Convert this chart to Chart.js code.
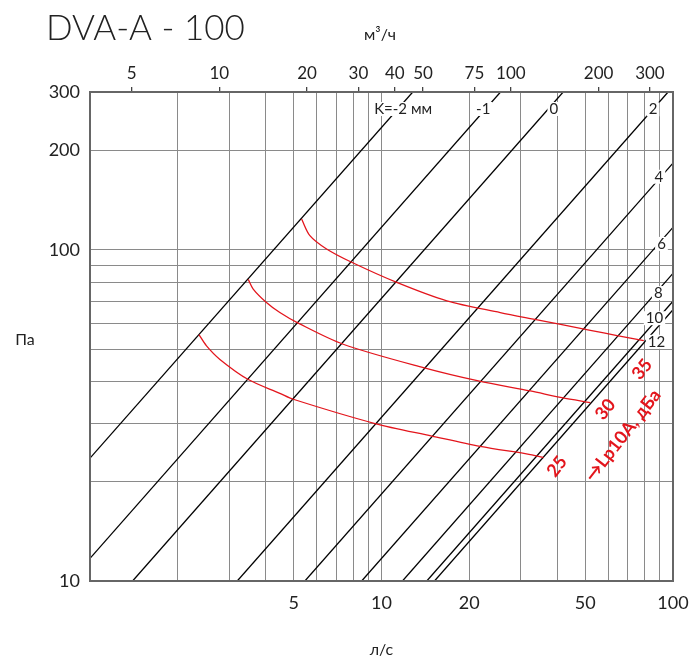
<!DOCTYPE html>
<html>
<head>
<meta charset="utf-8">
<script src="https://cdn.jsdelivr.net/npm/chart.js@4.4.1/dist/chart.umd.min.js"></script>
<style>
  html, body { margin: 0; padding: 0; background: #fff; }
  #wrap { width: 694px; height: 659px; }
</style>
</head>
<body>
<div id="wrap"><canvas id="chart-dva"></canvas></div>
<script>
// axes: flow l/s (bottom), m3/h (top), pressure drop Pa (left)
const flowTicks = [1, 2, 3, 4, 5, 6, 7, 8, 9, 10, 20, 30, 40, 50, 60, 70, 80, 90, 100];
const flowLabels = [5, 10, 20, 50, 100];
const pressTicks = [10, 20, 30, 40, 50, 60, 70, 80, 90, 100, 200, 300];
const pressLabels = [10, 100, 200, 300];
const m3hTicks = [5, 10, 20, 30, 40, 50, 75, 100, 200, 300];

// K lines (damper setting): start / end points
const kNames = ['K=-2 мм', '-1', '0', '2', '4', '6', '8', '10', '12'];
const kStartQ = [1, 1, 1.4, 3.2, 5.46, 8.55, 11.8, 14.3, 15.2];
const kStartP = [23.5, 11.7, 10, 10, 10, 10, 10, 10, 10];
const kEndQ = [12.8, 25.6, 42, 96.2, 100, 100, 100, 100, 100];
const kEndP = [300, 300, 300, 300, 183, 117, 85, 70, 66];

// sound level curves Lp10A, dBA
const noise35Q = [5.32, 5.68, 6.48, 7.9, 11.28, 16.75, 25.54, 33.2, 52.06, 64.3, 79.4];
const noise35P = [124, 110.5, 100.7, 91.8, 79.8, 70.2, 64.7, 61.8, 57.2, 55.1, 53.2];
const noise30Q = [3.49, 3.63, 4.03, 4.48, 5.18, 7.39, 13.92, 21.5, 32.4, 41.6, 52.06];
const noise30P = [81.5, 76.2, 69.4, 64.7, 60.1, 51.9, 44.1, 40.2, 37.5, 35.8, 34.6];
const noise25Q = [2.365, 2.51, 2.79, 3.49, 4.48, 4.98, 9.5, 14.88, 21.8, 32.4, 35.97];
const noise25P = [55.5, 51.3, 46.7, 40.6, 36.9, 35.4, 29.9, 27.4, 25.5, 24.1, 23.6];

// label anchors (data coords)
const kLabelQ = [11.86, 22.33, 39.0, 85.4, 89.5, 91.3, 89.0, 86.4, 87.8];
const kLabelP = [266.6, 266.6, 266.6, 266, 166.4, 104.3, 74.1, 62.2, 52.8];
const redLabels = [
    {text: '35', q: 78.4, p: 43.6},
    {text: '30', q: 58.6, p: 33.0},
    {text: '25', q: 40.0, p: 22.2},
    {text: '→Lp10A, дБа', q: 67.3, p: 27.5},
];

const FONT = 'Lato, "Open Sans", sans-serif';
const RED = '#e3151c';

const zip = (qs, ps) => qs.map((q, i) => ({x: q, y: ps[i]}));

let datasets = [
    {data: zip(noise35Q, noise35P)},
    {data: zip(noise30Q, noise30P)},
    {data: zip(noise25Q, noise25P)},
].map(d => Object.assign(d, {
    borderColor: RED, borderWidth: 1.3, pointRadius: 0, showLine: true,
    tension: 0.3,
}));

kNames.forEach((name, i) => {
    datasets.push({
        label: name,
        data: [{x: kStartQ[i], y: kStartP[i]}, {x: kEndQ[i], y: kEndP[i]}],
        borderColor: '#000', borderWidth: 1.3, pointRadius: 0, showLine: true,
    });
});

const setTicks = (values) => (scale) => {
    scale.ticks = values.map(v => ({value: v}));
};

// keep the plot box fixed: no extra room for overhanging tick labels
const fixHeight = (h) => (scale) => {
    scale.height = h;
    scale.paddingLeft = 0;
    scale.paddingRight = 0;
};

const labelsPlugin = {
    id: 'dvaLabels',
    afterDatasetsDraw(chart) {
        const {ctx, scales: {x, y}} = chart;
        ctx.save();
        ctx.font = '15px ' + FONT;
        ctx.textAlign = 'center';
        ctx.textBaseline = 'middle';
        kNames.forEach((name, i) => {
            const px = x.getPixelForValue(kLabelQ[i]);
            const py = y.getPixelForValue(kLabelP[i]);
            const w = ctx.measureText(name).width;
            ctx.fillStyle = '#fff';
            ctx.fillRect(px - w / 2 - 2, py - 7, w + 4, 14);
            ctx.fillStyle = '#222';
            ctx.fillText(name, px, py);
        });
        ctx.fillStyle = RED;
        ctx.font = 'bold 18px ' + FONT;
        redLabels.forEach(l => {
            ctx.save();
            ctx.translate(x.getPixelForValue(l.q), y.getPixelForValue(l.p));
            ctx.rotate(-52 * Math.PI / 180);
            ctx.fillText(l.text, 0, 0);
            ctx.restore();
        });
        ctx.restore();
    },
    afterDraw(chart) {
        const {ctx, chartArea: a} = chart;
        ctx.save();
        ctx.strokeStyle = '#666';
        ctx.lineWidth = 2;
        ctx.strokeRect(a.left, a.top, a.right - a.left, a.bottom - a.top);
        ctx.fillStyle = '#222';
        ctx.textBaseline = 'middle';
        ctx.font = '300 35px ' + FONT;
        ctx.textAlign = 'left';
        ctx.fillText('DVA-A - 100', 46, 29);
        ctx.textAlign = 'center';
        ctx.font = '16px ' + FONT;
        ctx.fillText('м³/ч', 380, 35);
        ctx.fillText('Па', 25, 340);
        ctx.fillText('л/с', (a.left + a.right) / 2, 650);
        ctx.restore();
    },
};

new Chart(document.getElementById('chart-dva'), {
    type: 'scatter',
    data: {datasets: datasets},
    plugins: [labelsPlugin],
    options: {
        responsive: true,
        maintainAspectRatio: false,
        animation: false,
        layout: {padding: {left: 0, right: 21, top: 0, bottom: 0}},
        plugins: {legend: {display: false}, tooltip: {enabled: false}},
        scales: {
            x: {
                type: 'logarithmic', position: 'bottom', min: 1, max: 100,
                afterBuildTicks: setTicks(flowTicks),
                afterFit: fixHeight(78),
                grid: {color: '#8a8a8a', lineWidth: 1, drawTicks: false},
                border: {display: false},
                ticks: {
                    autoSkip: false, maxRotation: 0, padding: 11, color: '#222',
                    font: {family: FONT, size: 18},
                    callback: (v) => flowLabels.includes(v) ? String(v) : '',
                },
            },
            xTop: {
                type: 'logarithmic', position: 'top', min: 3.6, max: 360,
                afterBuildTicks: setTicks(m3hTicks),
                afterFit: fixHeight(92),
                grid: {drawOnChartArea: false, drawTicks: true, tickLength: 5, tickColor: '#444', lineWidth: 1.3},
                border: {display: false},
                ticks: {
                    autoSkip: false, maxRotation: 0, padding: 3, color: '#222',
                    font: {family: FONT, size: 17},
                    callback: (v) => String(v),
                },
            },
            y: {
                type: 'logarithmic', position: 'left', min: 10, max: 300,
                afterBuildTicks: setTicks(pressTicks),
                afterFit: (s) => { s.width = 90; s.paddingTop = 0; s.paddingBottom = 0; },
                grid: {color: '#8a8a8a', lineWidth: 1, drawTicks: false},
                border: {display: false},
                ticks: {
                    autoSkip: false, padding: 10, color: '#222',
                    font: {family: FONT, size: 18},
                    callback: (v) => pressLabels.includes(v) ? String(v) : '',
                },
            },
        },
    },
});
</script>
</body>
</html>
